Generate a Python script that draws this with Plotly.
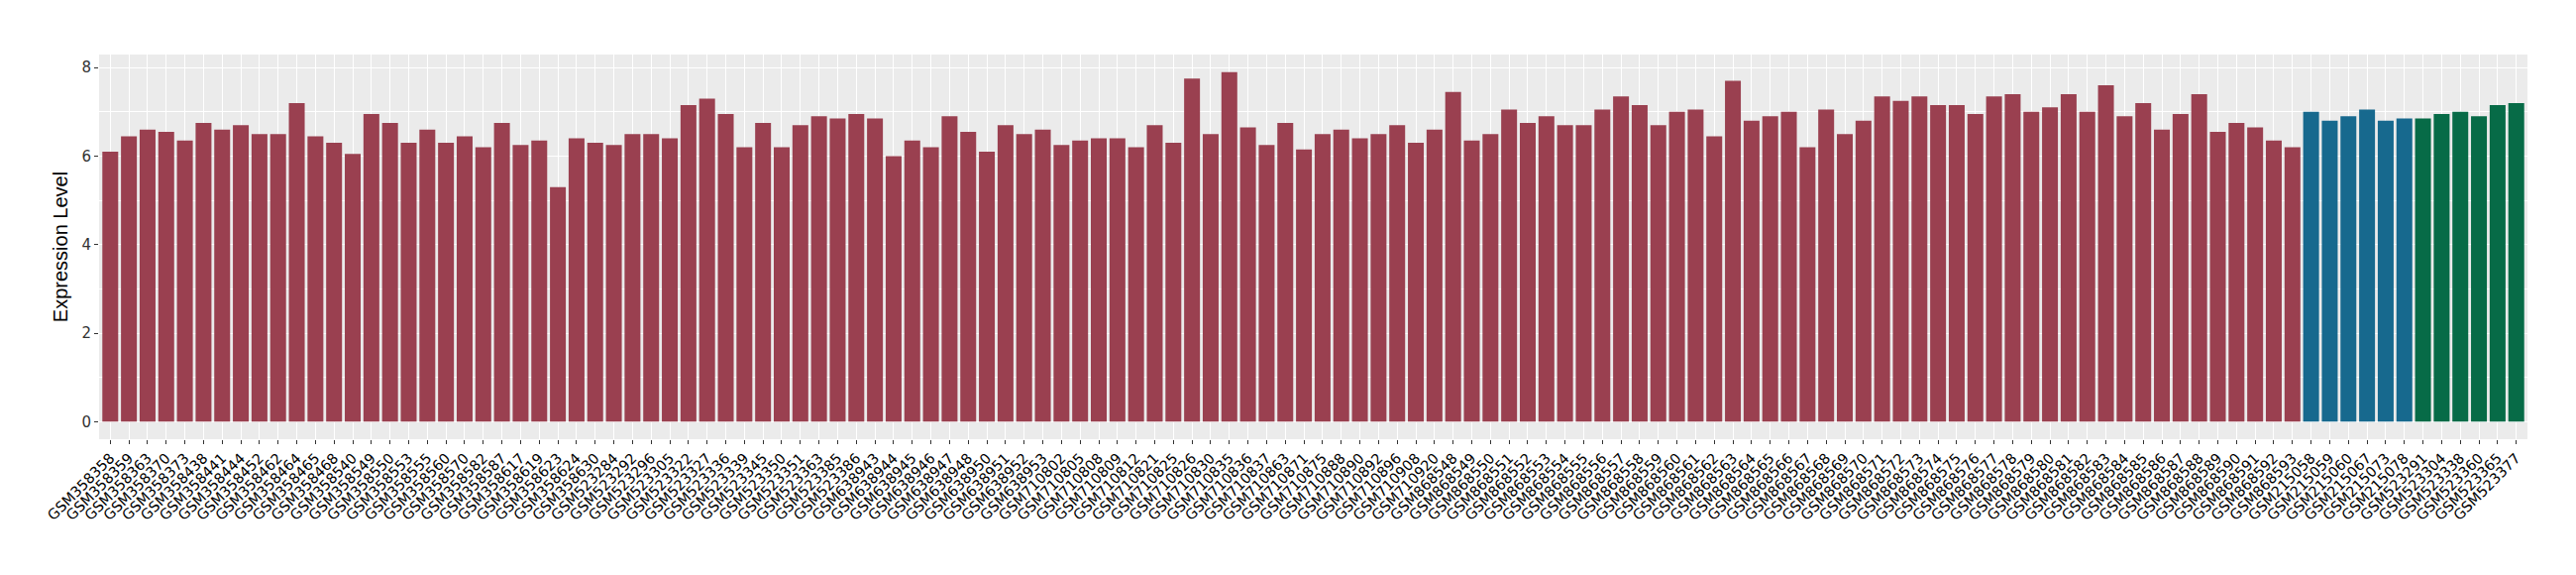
import plotly.graph_objects as go

samples = [
    "GSM358358","GSM358359","GSM358363","GSM358370","GSM358373","GSM358438","GSM358441","GSM358444",
    "GSM358452","GSM358462","GSM358464","GSM358465","GSM358468","GSM358540","GSM358549","GSM358550",
    "GSM358553","GSM358555","GSM358560","GSM358570","GSM358582","GSM358587","GSM358617","GSM358619",
    "GSM358623","GSM358624","GSM358630","GSM523284","GSM523292","GSM523296","GSM523305","GSM523322",
    "GSM523327","GSM523336","GSM523339","GSM523345","GSM523350","GSM523351","GSM523363","GSM523385",
    "GSM523386","GSM638943","GSM638944","GSM638945","GSM638946","GSM638947","GSM638948","GSM638950",
    "GSM638951","GSM638952","GSM638953","GSM710802","GSM710805","GSM710808","GSM710809","GSM710812",
    "GSM710821","GSM710825","GSM710826","GSM710830","GSM710835","GSM710836","GSM710837","GSM710863",
    "GSM710871","GSM710875","GSM710888","GSM710890","GSM710892","GSM710896","GSM710908","GSM710920",
    "GSM868548","GSM868549","GSM868550","GSM868551","GSM868552","GSM868553","GSM868554","GSM868555",
    "GSM868556","GSM868557","GSM868558","GSM868559","GSM868560","GSM868561","GSM868562","GSM868563",
    "GSM868564","GSM868565","GSM868566","GSM868567","GSM868568","GSM868569","GSM868570","GSM868571",
    "GSM868572","GSM868573","GSM868574","GSM868575","GSM868576","GSM868577","GSM868578","GSM868579",
    "GSM868580","GSM868581","GSM868582","GSM868583","GSM868584","GSM868585","GSM868586","GSM868587",
    "GSM868588","GSM868589","GSM868590","GSM868591","GSM868592","GSM868593",
    "GSM215058","GSM215059","GSM215060","GSM215067","GSM215073","GSM215078",
    "GSM523291","GSM523304","GSM523338","GSM523360","GSM523365","GSM523377",
]

values = [
    6.10, 6.45, 6.60, 6.55, 6.35, 6.75, 6.60, 6.70,
    6.50, 6.50, 7.20, 6.45, 6.30, 6.05, 6.95, 6.75,
    6.30, 6.60, 6.30, 6.45, 6.20, 6.75, 6.25, 6.35,
    5.30, 6.40, 6.30, 6.25, 6.50, 6.50, 6.40, 7.15,
    7.30, 6.95, 6.20, 6.75, 6.20, 6.70, 6.90, 6.85,
    6.95, 6.85, 6.00, 6.35, 6.20, 6.90, 6.55, 6.10,
    6.70, 6.50, 6.60, 6.25, 6.35, 6.40, 6.40, 6.20,
    6.70, 6.30, 7.75, 6.50, 7.90, 6.65, 6.25, 6.75,
    6.15, 6.50, 6.60, 6.40, 6.50, 6.70, 6.30, 6.60,
    7.45, 6.35, 6.50, 7.05, 6.75, 6.90, 6.70, 6.70,
    7.05, 7.35, 7.15, 6.70, 7.00, 7.05, 6.45, 7.70,
    6.80, 6.90, 7.00, 6.20, 7.05, 6.50, 6.80, 7.35,
    7.25, 7.35, 7.15, 7.15, 6.95, 7.35, 7.40, 7.00,
    7.10, 7.40, 7.00, 7.60, 6.90, 7.20, 6.60, 6.95,
    7.40, 6.55, 6.75, 6.65, 6.35, 6.20,
    7.00, 6.80, 6.90, 7.05, 6.80, 6.85,
    6.85, 6.95, 7.00, 6.90, 7.15, 7.20,
]

groups = ["A"] * 118 + ["B"] * 6 + ["C"] * 6
group_colors = {"A": "#9A4050", "B": "#17698E", "C": "#076B47"}
colors = [group_colors[g] for g in groups]

y_ticks = [0, 2, 4, 6, 8]

fig = go.Figure(
    go.Bar(
        x=samples,
        y=values,
        marker=dict(color=colors, line=dict(width=0)),
        width=0.85,
        showlegend=False,
    )
)

fig.update_layout(
    width=2600,
    height=580,
    margin=dict(l=92, r=57, t=47, b=145),
    paper_bgcolor="white",
    plot_bgcolor="#EBEBEB",
    font=dict(family="DejaVu Sans", color="black"),
)

fig.update_xaxes(
    type="category",
    tickmode="array",
    tickvals=samples,
    ticktext=samples,
    range=[-0.6, len(samples) - 0.4],
    tickangle=-45,
    tickfont=dict(size=14.5, color="black", family="DejaVu Sans"),
    ticks="outside",
    ticklen=4,
    tickcolor="#333333",
    showgrid=True,
    gridcolor="white",
    gridwidth=1,
    showline=False,
    zeroline=False,
)

fig.update_yaxes(
    range=[-0.395, 8.295],
    tickvals=y_ticks,
    ticktext=[str(v) for v in y_ticks],
    tickfont=dict(size=15, color="#333333", family="DejaVu Sans"),
    ticks="outside",
    ticklen=4,
    tickcolor="#333333",
    showgrid=True,
    gridcolor="white",
    gridwidth=1.2,
    minor=dict(tickvals=[1, 3, 5, 7], showgrid=True, gridcolor="white", gridwidth=0.5, ticks=""),
    zeroline=False,
    showline=False,
    title=dict(text="Expression Level", font=dict(size=20, family="Liberation Sans", color="black"), standoff=8),
)

fig.write_html("out.html")
